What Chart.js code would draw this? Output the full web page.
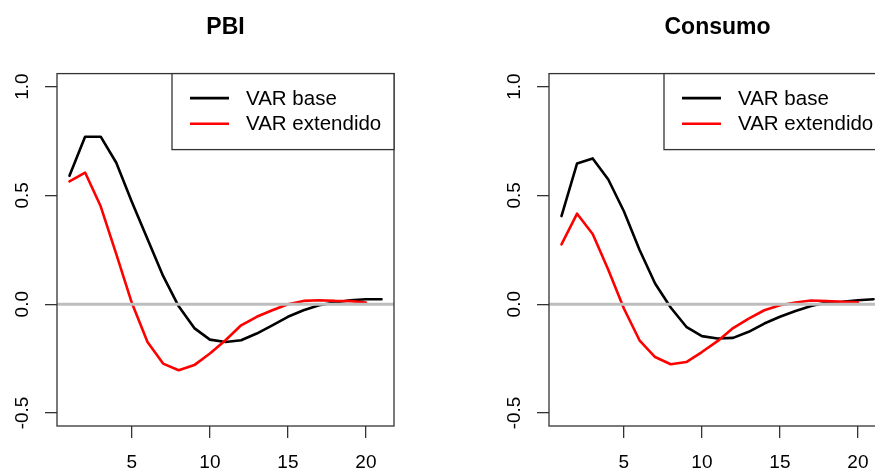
<!DOCTYPE html>
<html>
<head>
<meta charset="utf-8">
<script src="https://cdn.jsdelivr.net/npm/chart.js@4.4.0/dist/chart.umd.min.js"></script>
<style>
  html, body { margin: 0; padding: 0; background: #fff; overflow: hidden; }
  #wrap { position: relative; width: 984px; height: 473px; }
  canvas { position: absolute; top: 0; }
</style>
</head>
<body>
<div id="wrap">
  <canvas id="pbi" width="492" height="473" style="left:0"></canvas>
  <canvas id="consumo" width="492" height="473" style="left:492px"></canvas>
</div>
<script>
/* ===== data ===== */
const horizon = [1, 2, 3, 4, 5, 6, 7, 8, 9, 10, 11, 12, 13, 14, 15, 16, 17, 18, 19, 20, 21];
const pbiBase = [0.59, 0.77, 0.77, 0.65, 0.47, 0.30, 0.13, -0.01, -0.11, -0.163, -0.174, -0.166, -0.135, -0.097, -0.058, -0.028, -0.005, 0.008, 0.018, 0.023, 0.023];
const pbiExt = [0.565, 0.605, 0.45, 0.23, 0.005, -0.174, -0.273, -0.304, -0.28, -0.227, -0.166, -0.097, -0.058, -0.028, 0.0, 0.015, 0.018, 0.015, 0.014, 0.008];
const consBase = [0.405, 0.647, 0.67, 0.573, 0.427, 0.25, 0.095, -0.015, -0.104, -0.147, -0.158, -0.155, -0.127, -0.089, -0.058, -0.031, -0.008, 0.008, 0.011, 0.018, 0.023];
const consExt = [0.275, 0.416, 0.323, 0.158, -0.02, -0.166, -0.243, -0.276, -0.266, -0.22, -0.17, -0.11, -0.066, -0.028, -0.005, 0.008, 0.017, 0.014, 0.011, 0.009];
const seriesNames = ["VAR base", "VAR extendido"];
const xTicks = [5, 10, 15, 20];
const yTicks = [-0.5, 0, 0.5, 1];
const refLevel = 0;

const FONT = "'Liberation Sans', Arial, Helvetica, sans-serif";
Chart.defaults.font.family = FONT;

/* ===== plugins: box, zero line, legend ===== */
const zeroLine = {
  id: "zeroLine",
  afterDatasetsDraw(chart) {
    const { ctx, chartArea: a, scales } = chart;
    const y = scales.y.getPixelForValue(refLevel);
    ctx.save();
    ctx.strokeStyle = "#bebebe";
    ctx.lineWidth = 3;
    ctx.beginPath();
    ctx.moveTo(a.left, y);
    ctx.lineTo(a.right, y);
    ctx.stroke();
    ctx.restore();
  }
};

const boxAndLegend = {
  id: "boxAndLegend",
  afterDraw(chart) {
    const { ctx, chartArea: a } = chart;
    ctx.save();
    ctx.strokeStyle = "#333";
    ctx.lineWidth = 1.3;
    ctx.strokeRect(a.left, a.top, a.right - a.left, a.bottom - a.top);

    // legend box, top right, like R's legend("topright")
    const w = 222, h = 76;
    const lx = a.right - w, ly = a.top;
    ctx.fillStyle = "#fff";
    ctx.fillRect(lx, ly, w, h);
    ctx.strokeRect(lx, ly, w, h);
    ctx.font = "20.5px " + FONT;
    ctx.textBaseline = "middle";
    ctx.textAlign = "left";
    chart.data.datasets.forEach((ds, i) => {
      const y = ly + 24.5 + i * 25.7;
      ctx.strokeStyle = ds.borderColor;
      ctx.lineWidth = 2.6;
      ctx.beginPath();
      ctx.moveTo(lx + 18, y);
      ctx.lineTo(lx + 57, y);
      ctx.stroke();
      ctx.fillStyle = "#000";
      ctx.fillText(ds.label, lx + 74, y + 1);
    });
    ctx.restore();
  }
};

/* ===== one panel ===== */
function makeIrf(canvasId, title, base, ext) {
  const ctx = document.getElementById(canvasId).getContext("2d");
  return new Chart(ctx, {
    type: "line",
    data: {
      datasets: [
        {
          label: seriesNames[0],
          data: base.map((v, i) => ({ x: horizon[i], y: v })),
          borderColor: "#000",
          borderWidth: 2.6,
          pointRadius: 0,
          tension: 0,
          order: 2,
          borderJoinStyle: "round",
          borderCapStyle: "round"
        },
        {
          label: seriesNames[1],
          data: ext.map((v, i) => ({ x: horizon[i], y: v })),
          borderColor: "#ff0000",
          borderWidth: 2.6,
          pointRadius: 0,
          tension: 0,
          order: 1,
          borderJoinStyle: "round",
          borderCapStyle: "round"
        }
      ]
    },
    options: {
      responsive: false,
      animation: false,
      devicePixelRatio: 1,
      layout: { padding: { left: 0, right: 98, top: 0, bottom: 0 } },
      plugins: {
        legend: { display: false },
        tooltip: { enabled: false },
        title: {
          display: true,
          text: title,
          fullSize: false,
          color: "#000",
          font: { size: 23, weight: "bold", family: FONT },
          padding: { top: 14, bottom: 32 }
        }
      },
      scales: {
        x: {
          type: "linear",
          min: 0.2,
          max: 21.8,
          afterBuildTicks: s => { s.ticks = xTicks.map(v => ({ value: v })); },
          afterFit: s => { s.height = 47; },
          border: { display: false },
          grid: { drawOnChartArea: false, drawTicks: true, tickLength: 12, color: "#333", lineWidth: 1.3 },
          ticks: { color: "#000", font: { size: 19 }, padding: 13, maxRotation: 0, autoSkip: false }
        },
        y: {
          type: "linear",
          min: -0.56,
          max: 1.06,
          afterBuildTicks: s => { s.ticks = yTicks.map(v => ({ value: v })); },
          afterFit: s => { s.width = 57; },
          border: { display: false },
          grid: { drawOnChartArea: false, drawTicks: true, tickLength: 12, color: "#333", lineWidth: 1.3 },
          ticks: {
            color: "#000",
            font: { size: 19 },
            minRotation: 90,
            maxRotation: 90,
            crossAlign: "center",
            padding: 6,
            autoSkip: false,
            callback: v => Number(v).toFixed(1)
          }
        }
      }
    },
    plugins: [zeroLine, boxAndLegend]
  });
}

makeIrf("pbi", "PBI", pbiBase, pbiExt);
makeIrf("consumo", "Consumo", consBase, consExt);
</script>
</body>
</html>
